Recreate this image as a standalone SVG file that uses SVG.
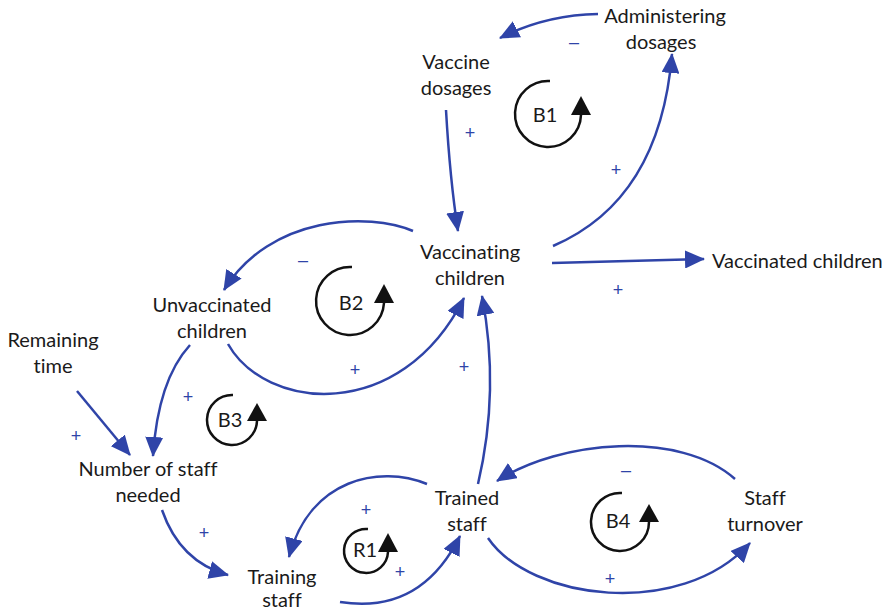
<svg xmlns="http://www.w3.org/2000/svg" width="887" height="612" viewBox="0 0 887 612">
<style>
.lbl{font-family:Lato,"Liberation Sans",sans-serif;font-size:20px;fill:#1a1a1a;text-anchor:middle;font-variant-ligatures:none;font-feature-settings:"liga" 0}
.sgn{font-family:"Liberation Sans",sans-serif;font-size:18px;fill:#2f44a8;text-anchor:middle;dominant-baseline:central}
.lnk{fill:none;stroke:#2f44a8;stroke-width:2.5;marker-end:url(#ah)}
.loop{fill:none;stroke:#111;stroke-width:2.5}
.lh{fill:#111}
</style>
<defs>
<marker id="ah" viewBox="0 0 20 18" refX="19" refY="9" markerWidth="20" markerHeight="18" markerUnits="userSpaceOnUse" orient="auto">
<path d="M0,0 L20,9 L0,18 z" fill="#2f44a8"/>
</marker>
</defs>
<rect width="887" height="612" fill="#fff"/>
<g id="connectors">
<path class="lnk" d="M598,14 Q545,15 500,38"/>
<path class="lnk" d="M553,246 Q660,200 672,54"/>
<path class="lnk" d="M446,110 Q450,180 458,231"/>
<path class="lnk" d="M552,263 L704,259"/>
<path class="lnk" d="M413,231 C370,212 270,215 224,290"/>
<path class="lnk" d="M228,344 C265,410 400,425 464,298"/>
<path class="lnk" d="M478,484 Q500,390 482,296"/>
<path class="lnk" d="M190,345 Q158,380 153,456"/>
<path class="lnk" d="M77,391 L130,455"/>
<path class="lnk" d="M162,510 Q180,562 228,575"/>
<path class="lnk" d="M427,484 C380,465 310,478 289,557"/>
<path class="lnk" d="M340,602 C390,610 432,592 460,536"/>
<path class="lnk" d="M735,479 C680,430 560,440 497,481"/>
<path class="lnk" d="M488,538 C530,600 680,620 750,543"/>
</g>
<g id="signs">
<text class="sgn" x="574" y="42">–</text>
<text class="sgn" x="470" y="133">+</text>
<text class="sgn" x="616" y="170">+</text>
<text class="sgn" x="618" y="290">+</text>
<text class="sgn" x="303" y="260">–</text>
<text class="sgn" x="355" y="370">+</text>
<text class="sgn" x="464" y="367">+</text>
<text class="sgn" x="188" y="397">+</text>
<text class="sgn" x="76" y="436">+</text>
<text class="sgn" x="204" y="533">+</text>
<text class="sgn" x="366" y="510">+</text>
<text class="sgn" x="400" y="572">+</text>
<text class="sgn" x="626" y="470">–</text>
<text class="sgn" x="610" y="579">+</text>
</g>
<g id="loop-B1">
<path class="loop" d="M550,81 A33,33 0 1 0 581,115"/>
<path class="lh" d="M581,96 L591,115 L571,115 z"/>
<text class="lbl" x="545" y="122">B1</text>
</g>
<g id="loop-B2">
<path class="loop" d="M352,267 A34,34 0 1 0 384,303"/>
<path class="lh" d="M384,284 L394,303 L374,303 z"/>
<text class="lbl" x="351" y="310">B2</text>
</g>
<g id="loop-B3">
<path class="loop" d="M233,395 A25,25 0 1 0 257,421"/>
<path class="lh" d="M257,403 L267,421 L247,421 z"/>
<text class="lbl" x="230" y="427">B3</text>
</g>
<g id="loop-R1">
<path class="loop" d="M368,529 A22,22 0 1 0 388,552"/>
<path class="lh" d="M388,533 L398,552 L378,552 z"/>
<text class="lbl" x="365" y="557">R1</text>
</g>
<g id="loop-B4">
<path class="loop" d="M622,493 A29,29 0 1 0 649,522"/>
<path class="lh" d="M649,504 L659,522 L639,522 z"/>
<text class="lbl" x="618" y="528">B4</text>
</g>
<g id="node-administering-dosages"><text class="lbl" x="665" y="23">Administering<tspan x="661" dy="26">dosages</tspan></text></g>
<g id="node-vaccine-dosages"><text class="lbl" x="456" y="69">Vaccine<tspan x="456" dy="26">dosages</tspan></text></g>
<g id="node-vaccinating-children"><text class="lbl" x="470" y="259">Vaccinating<tspan x="470" dy="26">children</tspan></text></g>
<g id="node-vaccinated-children"><text class="lbl" x="712" y="268" style="text-anchor:start">Vaccinated children</text></g>
<g id="node-unvaccinated-children"><text class="lbl" x="212" y="312">Unvaccinated<tspan x="212" dy="26">children</tspan></text></g>
<g id="node-remaining-time"><text class="lbl" x="53" y="347">Remaining<tspan x="53" dy="26">time</tspan></text></g>
<g id="node-number-of-staff-needed"><text class="lbl" x="148" y="476">Number of staff<tspan x="148" dy="26">needed</tspan></text></g>
<g id="node-training-staff"><text class="lbl" x="282" y="584">Training<tspan x="282" dy="23">staff</tspan></text></g>
<g id="node-trained-staff"><text class="lbl" x="467" y="505">Trained<tspan x="467" dy="26">staff</tspan></text></g>
<g id="node-staff-turnover"><text class="lbl" x="765" y="505">Staff<tspan x="765" dy="26">turnover</tspan></text></g>
</svg>
